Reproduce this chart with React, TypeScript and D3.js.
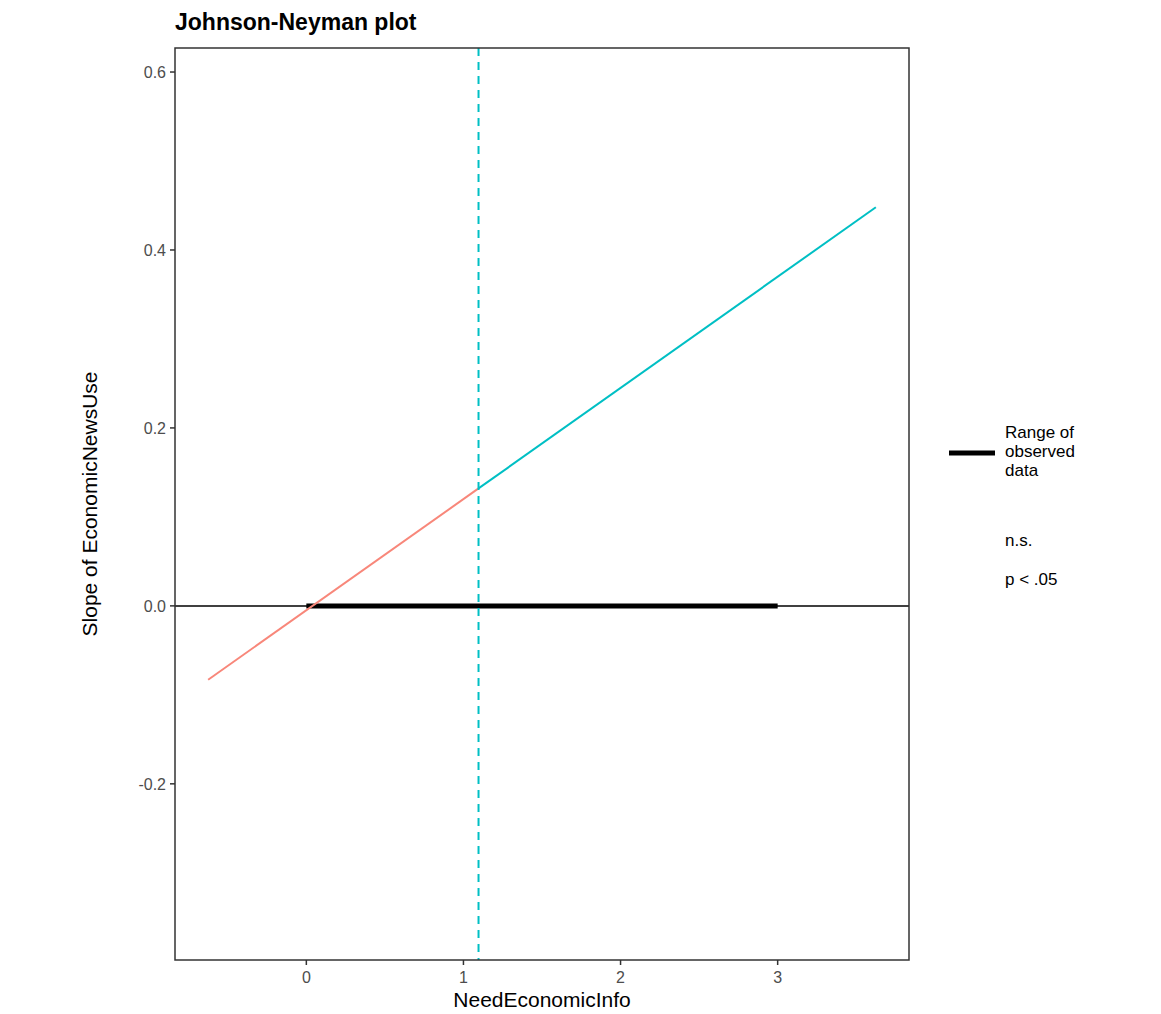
import React from "react";
import * as d3 from "d3";

const W = 1161;
const H = 1014;

const xTicks = [0, 1, 2, 3];
const yTicks = [-0.2, 0.0, 0.2, 0.4, 0.6];
const nsSegment = [
  { x: -0.625, y: -0.083 },
  { x: 1.096, y: 0.132 },
];
const sigSegment = [
  { x: 1.096, y: 0.132 },
  { x: 3.625, y: 0.448 },
];
const observedRange = [0, 3];
const jnPoint = 1.096;
const legendLines = ["Range of", "observed", "data"];
const sigLabels = ["n.s.", "p < .05"];

export default function App() {
  const left = 175, right = 909, top = 48, bottom = 960;
  const x = d3.scaleLinear().domain([-0.836, 3.836]).range([left, right]);
  const y = d3.scaleLinear().domain([-0.398, 0.627]).range([bottom, top]);
  const line = d3
    .line<{ x: number; y: number }>()
    .x((d) => x(d.x))
    .y((d) => y(d.y));
  const tickColor = "#4d4d4d";
  return (
    <svg width={W} height={H} style={{ position: "absolute", left: 0, top: 0, background: "#fff" }}
      fontFamily="Liberation Sans, Arial, sans-serif">
      <text x={left} y={30} fontSize={23} fontWeight="bold" fill="#000">Johnson-Neyman plot</text>
      <defs>
        <clipPath id="panel">
          <rect x={left} y={top} width={right - left} height={bottom - top} />
        </clipPath>
      </defs>
      <g clipPath="url(#panel)">
        <line x1={left} x2={right} y1={y(0)} y2={y(0)} stroke="#000" strokeWidth={1.5} />
        <line x1={x(observedRange[0])} x2={x(observedRange[1])} y1={y(0)} y2={y(0)} stroke="#000" strokeWidth={5} />
        <path d={line(nsSegment) || ""} stroke="#F8877A" strokeWidth={2} fill="none" />
        <path d={line(sigSegment) || ""} stroke="#00BFC4" strokeWidth={2} fill="none" />
        <line x1={x(jnPoint)} x2={x(jnPoint)} y1={top} y2={bottom} stroke="#00BFC4" strokeWidth={2} strokeDasharray="8,6" />
      </g>
      <rect x={left} y={top} width={right - left} height={bottom - top} fill="none" stroke="#333" strokeWidth={1.5} />
      {xTicks.map((t) => (
        <g key={"x" + t}>
          <line x1={x(t)} x2={x(t)} y1={bottom} y2={bottom + 5} stroke="#333" strokeWidth={1.5} />
          <text x={x(t)} y={bottom + 23} textAnchor="middle" fontSize={16} fill={tickColor}>{t}</text>
        </g>
      ))}
      {yTicks.map((t) => (
        <g key={"y" + t}>
          <line x1={left - 5} x2={left} y1={y(t)} y2={y(t)} stroke="#333" strokeWidth={1.5} />
          <text x={left - 9} y={y(t) + 6} textAnchor="end" fontSize={16} fill={tickColor}>{t.toFixed(1)}</text>
        </g>
      ))}
      <text x={(left + right) / 2} y={1007} textAnchor="middle" fontSize={21} fill="#000">NeedEconomicInfo</text>
      <text transform={`translate(97,${(top + bottom) / 2}) rotate(-90)`} textAnchor="middle" fontSize={21} fill="#000">
        Slope of EconomicNewsUse
      </text>
      <line x1={949} x2={995} y1={453} y2={453} stroke="#000" strokeWidth={5} />
      {legendLines.map((s, i) => (
        <text key={s} x={1005} y={438 + i * 19} fontSize={17} fill="#000">{s}</text>
      ))}
      {sigLabels.map((s, i) => (
        <text key={s} x={1005} y={546 + i * 39} fontSize={17} fill="#000">{s}</text>
      ))}
    </svg>
  );
}
